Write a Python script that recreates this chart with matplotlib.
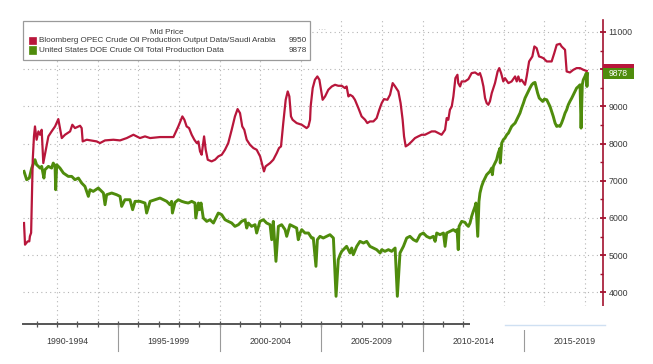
import matplotlib
matplotlib.use("Agg")
import matplotlib.pyplot as plt
from matplotlib.patches import Rectangle
from matplotlib.transforms import blended_transform_factory

plt.rcParams['font.family'] = ['Liberation Sans', 'DejaVu Sans']

# ---------------- data ----------------
red_years = [1990.37, 1990.42, 1990.55, 1990.63, 1990.66, 1990.72, 1990.80, 1990.86, 1990.91, 1990.99,
             1991.08, 1991.16, 1991.24, 1991.32, 1991.57, 1991.73, 1991.90, 1992.06, 1992.23, 1992.39,
             1992.64, 1992.75, 1992.88, 1993.13, 1993.21, 1993.26, 1993.46, 1993.95, 1994.11, 1994.36,
             1994.77, 1995.10, 1995.43, 1995.76, 1996.08, 1996.33, 1996.58, 1997.07, 1997.56, 1997.73,
             1997.97, 1998.17, 1998.27, 1998.38, 1998.50, 1998.63, 1998.76, 1998.88, 1998.96, 1999.04,
             1999.12, 1999.24, 1999.32, 1999.42, 1999.61, 1999.78, 1999.94, 2000.11, 2000.27, 2000.43,
             2000.60, 2000.76, 2000.89, 2001.01, 2001.12, 2001.22, 2001.34, 2001.50, 2001.67, 2001.83,
             2002.00, 2002.13, 2002.19, 2002.27, 2002.49, 2002.65, 2002.82, 2002.93, 2003.03, 2003.14,
             2003.26, 2003.36, 2003.44, 2003.52, 2003.60, 2003.80, 2004.05, 2004.29, 2004.38, 2004.46,
             2004.49, 2004.59, 2004.70, 2004.82, 2004.92, 2005.00, 2005.08, 2005.20, 2005.36, 2005.53,
             2005.69, 2005.85, 2006.02, 2006.18, 2006.26, 2006.35, 2006.43, 2006.56, 2006.67, 2006.84,
             2007.00, 2007.17, 2007.28, 2007.41, 2007.58, 2007.74, 2007.87, 2007.99, 2008.10, 2008.27,
             2008.40, 2008.53, 2008.65, 2008.81, 2008.92, 2009.02, 2009.09, 2009.17, 2009.30, 2009.47,
             2009.63, 2009.79, 2009.96, 2010.12, 2010.29, 2010.45, 2010.62, 2010.78, 2010.94, 2011.11,
             2011.19, 2011.27, 2011.35, 2011.44, 2011.52, 2011.62, 2011.72, 2011.76, 2011.85, 2011.93,
             2012.09, 2012.26, 2012.42, 2012.59, 2012.75, 2012.83, 2012.91, 2013.00, 2013.08, 2013.16,
             2013.24, 2013.32, 2013.41, 2013.57, 2013.70, 2013.78, 2013.87, 2013.98, 2014.06, 2014.23,
             2014.39, 2014.56, 2014.64, 2014.72, 2014.80, 2014.88, 2015.05, 2015.13, 2015.25, 2015.41,
             2015.51, 2015.62, 2015.74, 2015.84, 2015.95, 2016.12, 2016.36, 2016.49, 2016.61, 2016.77,
             2016.85, 2017.02, 2017.10, 2017.26, 2017.43, 2017.59, 2017.76, 2017.92, 2018.09]
red_vals = [5864, 5282, 5371, 5371, 5506, 5600, 7565, 8192, 8460, 8102,
            8326, 8236, 8370, 7475, 8192, 8326, 8460, 8657, 8147, 8236,
            8326, 8505, 8415, 8478, 8415, 8057, 8102, 8057, 8012, 8084,
            8102, 8084, 8147, 8236, 8147, 8192, 8147, 8174, 8174, 8174,
            8460, 8729, 8639, 8460, 8415, 8236, 8102, 8012, 8057, 7789,
            7699, 8192, 7833, 7565, 7520, 7565, 7654, 7699, 7833, 8012,
            8370, 8729, 8926, 8818, 8460, 8370, 8102, 7968, 7878, 7833,
            7654, 7386, 7251, 7386, 7475, 7565, 7744, 7878, 7923, 8550,
            9176, 9400, 9266, 8729, 8639, 8550, 8505, 8415, 8460, 8639,
            8997, 9490, 9714, 9803, 9714, 9445, 9176, 9266, 9445, 9534,
            9579, 9552, 9552, 9490, 9534, 9266, 9311, 9266, 9176, 8953,
            8729, 8639, 8550, 8594, 8594, 8684, 8908, 9087, 9194, 9176,
            9311, 9624, 9534, 9400, 9087, 8639, 8192, 7923, 7968, 8057,
            8147, 8192, 8236, 8236, 8281, 8326, 8326, 8281, 8236, 8370,
            8684, 8639, 8908, 8997, 9266, 9758, 9848, 9624, 9534, 9669,
            9669, 9731, 9893, 9910, 9848, 9893, 9758, 9534, 9221, 9087,
            9042, 9132, 9355, 9624, 9937, 10027, 9893, 9669, 9758, 9624,
            9669, 9803, 9669, 9803, 9669, 9714, 9579, 9803, 10206, 10340,
            10609, 10564, 10340, 10322, 10295, 10206, 10206, 10430, 10654, 10680,
            10609, 10519, 9937, 9910, 9982, 10027, 10027, 9982, 9950]

green_years = [1990.37, 1990.50, 1990.63, 1990.75, 1990.91, 1990.99, 1991.08, 1991.16, 1991.24, 1991.35,
               1991.40, 1991.57, 1991.73, 1991.81, 1991.90, 1991.93, 1991.98, 1992.14, 1992.31, 1992.55,
               1992.72, 1992.88, 1993.05, 1993.21, 1993.37, 1993.54, 1993.62, 1993.78, 1994.03, 1994.28,
               1994.36, 1994.44, 1994.69, 1994.93, 1995.10, 1995.18, 1995.34, 1995.59, 1995.72, 1995.84,
               1996.08, 1996.33, 1996.41, 1996.58, 1996.82, 1997.07, 1997.40, 1997.56, 1997.64, 1997.68,
               1997.81, 1997.97, 1998.14, 1998.30, 1998.46, 1998.63, 1998.79, 1998.83, 1998.96, 1999.01,
               1999.09, 1999.20, 1999.37, 1999.53, 1999.70, 1999.86, 1999.94, 2000.11, 2000.27, 2000.43,
               2000.60, 2000.76, 2000.93, 2001.09, 2001.26, 2001.34, 2001.42, 2001.58, 2001.75, 2001.83,
               2001.99, 2002.16, 2002.32, 2002.49, 2002.57, 2002.65, 2002.78, 2002.90, 2003.06, 2003.23,
               2003.31, 2003.47, 2003.64, 2003.80, 2003.88, 2003.97, 2004.05, 2004.21, 2004.38, 2004.54,
               2004.62, 2004.75, 2004.82, 2004.95, 2005.11, 2005.28, 2005.44, 2005.61, 2005.74, 2005.85,
               2005.94, 2006.02, 2006.10, 2006.26, 2006.43, 2006.51, 2006.59, 2006.76, 2006.92, 2007.09,
               2007.25, 2007.41, 2007.58, 2007.74, 2007.91, 2007.99, 2008.15, 2008.32, 2008.48, 2008.65,
               2008.76, 2008.89, 2009.06, 2009.22, 2009.38, 2009.55, 2009.71, 2009.88, 2010.04, 2010.20,
               2010.37, 2010.53, 2010.62, 2010.70, 2010.86, 2011.03, 2011.11, 2011.19, 2011.35, 2011.52,
               2011.62, 2011.70, 2011.76, 2011.80, 2011.93, 2012.09, 2012.17, 2012.26, 2012.34, 2012.42,
               2012.50, 2012.59, 2012.63, 2012.72, 2012.78, 2012.83, 2012.91, 2013.00, 2013.08, 2013.16,
               2013.24, 2013.32, 2013.41, 2013.44, 2013.49, 2013.57, 2013.65, 2013.73, 2013.82, 2013.83,
               2013.90, 2013.98, 2014.06, 2014.15, 2014.23, 2014.31, 2014.39, 2014.47, 2014.56, 2014.64,
               2014.72, 2014.80, 2014.88, 2014.97, 2015.05, 2015.13, 2015.21, 2015.29, 2015.38, 2015.46,
               2015.54, 2015.59, 2015.67, 2015.75, 2015.84, 2015.92, 2016.00, 2016.12, 2016.20, 2016.28,
               2016.36, 2016.44, 2016.53, 2016.61, 2016.69, 2016.77, 2016.85, 2016.94, 2017.02, 2017.10,
               2017.18, 2017.26, 2017.35, 2017.43, 2017.51, 2017.59, 2017.68, 2017.76, 2017.81, 2017.87,
               2017.92, 2018.00, 2018.07, 2018.10, 2018.13]
green_vals = [7251, 7028, 7072, 7341, 7565, 7430, 7386, 7341, 7386, 7072,
              7296, 7386, 7341, 7475, 7386, 6759, 7430, 7341, 7207, 7117,
              7117, 7028, 7072, 6938, 6849, 6580, 6759, 6714, 6804, 6670,
              6356, 6625, 6670, 6625, 6580, 6311, 6490, 6490, 6222, 6446,
              6446, 6401, 6132, 6446, 6490, 6535, 6446, 6356, 6446, 6132,
              6419, 6490, 6446, 6419, 6401, 6446, 6401, 5998, 6401, 6222,
              6401, 5998, 5908, 5953, 5864, 6043, 6132, 6087, 5953, 5908,
              5864, 5774, 5819, 5908, 5953, 5729, 5864, 5774, 5819, 5595,
              5908, 5953, 5864, 5819, 5416, 5908, 4834, 5774, 5819, 5685,
              5506, 5819, 5774, 5729, 5416, 5595, 5685, 5595, 5595, 5461,
              5461, 4700, 5416, 5506, 5461, 5506, 5550, 5461, 3894, 4879,
              5013, 5103, 5148, 5237, 5058, 5192, 5013, 5237, 5371, 5326,
              5371, 5237, 5192, 5148, 5058, 5148, 5103, 5148, 5103, 5192,
              3894, 5058, 5237, 5461, 5506, 5416, 5371, 5550, 5595, 5506,
              5461, 5506, 5371, 5595, 5550, 5595, 5237, 5595, 5640, 5685,
              5640, 5685, 5148, 5774, 5908, 5882, 5819, 5774, 5864, 6043,
              6177, 6311, 6401, 5506, 6446, 6670, 6849, 6983, 7072, 7162,
              7207, 7251, 7341, 7162, 7386, 7475, 7565, 7744, 7878, 7475,
              8012, 8102, 8147, 8236, 8281, 8370, 8460, 8505, 8550, 8639,
              8729, 8818, 8953, 9087, 9221, 9311, 9400, 9490, 9579, 9624,
              9642, 9534, 9355, 9221, 9176, 9132, 9194, 9176, 9087, 8997,
              8863, 8729, 8550, 8460, 8478, 8460, 8550, 8684, 8818, 8908,
              9042, 9132, 9221, 9311, 9400, 9490, 9534, 9579, 8415, 9579,
              9714, 9803, 9893, 9534, 9878]

red_name = "Bloomberg OPEC Crude Oil Production Output Data/Saudi Arabia"
green_name = "United States DOE Crude Oil Total Production Data"
red_last = 9950
green_last = 9878
legend_title = "Mid Price"
y_ticks = [4000, 5000, 6000, 7000, 8000, 9000, 10000, 11000]
y_tick_labels = ["4000", "5000", "6000", "7000", "8000", "9000", "", "11000"]  # 10000 hidden by the tag
y_minor = [3500, 4500, 5500, 6500, 7500, 8500, 9500, 10500]
year_ticks = list(range(1991, 2019))
grid_years = list(range(1992, 2019, 2))
period_bounds = [1995, 2000, 2005, 2010, 2015]
period_labels = ["1990-1994", "1995-1999", "2000-2004", "2005-2009", "2010-2014", "2015-2019"]
period_centers = [1992.5, 1997.5, 2002.5, 2007.5, 2012.5, 2017.5]

RED = "#b8163b"
GREEN = "#4f8c0c"
AXRED = "#a3122f"
TXT = "#3a3a3a"

W, H = 653, 364
fig = plt.figure(figsize=(W / 100, H / 100), dpi=100)
fig.patch.set_facecolor("white")
ax = fig.add_axes([23 / W, 40 / H, 580 / W, 304 / H])
ax.set_xlim(1990.32, 2018.89)
ax.set_ylim(3150, 11320)

# grid
for yv in y_ticks:
    ax.axhline(yv, color="#b5b5b5", lw=0.8, ls=(0, (1, 3)), zorder=0)
for xv in grid_years:
    ax.axvline(xv, color="#b5b5b5", lw=0.8, ls=(0, (1, 3)), zorder=0)

ax.plot(green_years, green_vals, color=GREEN, lw=2.1, zorder=3)
ax.plot(red_years, red_vals, color=RED, lw=1.6, zorder=4)

# spines / axes
for s in ["left", "top"]:
    ax.spines[s].set_visible(False)
ax.spines["right"].set_color(AXRED)
ax.spines["right"].set_linewidth(1.2)
ax.spines["bottom"].set_color("#555555")
ax.spines["bottom"].set_linewidth(1.4)

ax.yaxis.tick_right()
ax.set_yticks(y_ticks)
ax.set_yticklabels(y_tick_labels)
ax.set_yticks(y_minor, minor=True)
ax.tick_params(axis="y", which="major", direction="inout", length=5, width=1.3,
               color=AXRED, labelcolor=TXT, labelsize=6.3, pad=1.5)
ax.tick_params(axis="y", which="minor", direction="in", length=2.5, width=1.0, color=AXRED)

ax.set_xticks(year_ticks)
ax.set_xticklabels([])
ax.tick_params(axis="x", which="major", direction="inout", length=4, width=0.9, color="#555555")

trans = blended_transform_factory(ax.transData, ax.transAxes)
for b in period_bounds:
    ax.plot([b, b], [0, -0.088], transform=trans, color="#9a9a9a", lw=0.8, clip_on=False)
for c, lab in zip(period_centers, period_labels):
    ax.text(c, -0.058, lab, transform=trans, ha="center", va="center", fontsize=6.3, color=TXT)

# last-value tags (red tag sits behind the green one)
tr2 = blended_transform_factory(ax.transAxes, ax.transData)
tag_w = 31 / 580
ax.add_patch(Rectangle((1.0, red_last - 130), tag_w, 330, transform=tr2, fc=RED, ec="none",
                       clip_on=False, zorder=6))
ax.add_patch(Rectangle((1.0, green_last - 150), tag_w, 300, transform=tr2, fc=GREEN, ec="none",
                       clip_on=False, zorder=7))
ax.text(1.0 + tag_w / 2, green_last, str(green_last), transform=tr2, ha="center", va="center",
        fontsize=6.2, color="white", clip_on=False, zorder=8)

# legend box (figure pixel coords)
def fx(px):
    return px / W

def fy(py):
    return 1 - py / H

LF = 5.9
fig.add_artist(Rectangle((fx(23), fy(60)), fx(310) - fx(23), fy(21) - fy(60), transform=fig.transFigure,
                         fc="white", ec="#9a9a9a", lw=0.9, zorder=10))
fig.text(fx(167), fy(32), legend_title, ha="center", va="center", fontsize=LF, color=TXT, zorder=11)
fig.add_artist(Rectangle((fx(29), fy(44)), fx(7), 7 / H, transform=fig.transFigure,
                         fc=RED, ec=RED, lw=0.5, zorder=11))
fig.add_artist(Rectangle((fx(29), fy(53.5)), fx(7), 7 / H, transform=fig.transFigure,
                         fc=GREEN, ec=GREEN, lw=0.5, zorder=11))
fig.text(fx(39), fy(40.5), red_name, ha="left", va="center", fontsize=LF, color=TXT, zorder=11)
fig.text(fx(39), fy(50), green_name, ha="left", va="center", fontsize=LF, color=TXT, zorder=11)
fig.text(fx(307), fy(40.5), str(red_last), ha="right", va="center", fontsize=LF, color=TXT, zorder=11)
fig.text(fx(307), fy(50), str(green_last), ha="right", va="center", fontsize=LF, color=TXT, zorder=11)
fig.text(fx(322), fy(31), "···", ha="center", va="center", fontsize=6, color="#b0b0b0", zorder=11)

# faded watermark patch over the bottom-right corner
fig.add_artist(Rectangle((fx(470), fy(330)), fx(640) - fx(470), (330 - 306) / H, transform=fig.transFigure,
                         fc="white", ec="none", zorder=12))
fig.add_artist(plt.Line2D([fx(505), fx(605)], [fy(325), fy(325)], transform=fig.transFigure,
                          color="#cfe0f2", lw=1.0, zorder=13))

fig.savefig("out.png", dpi=100, facecolor="white")
